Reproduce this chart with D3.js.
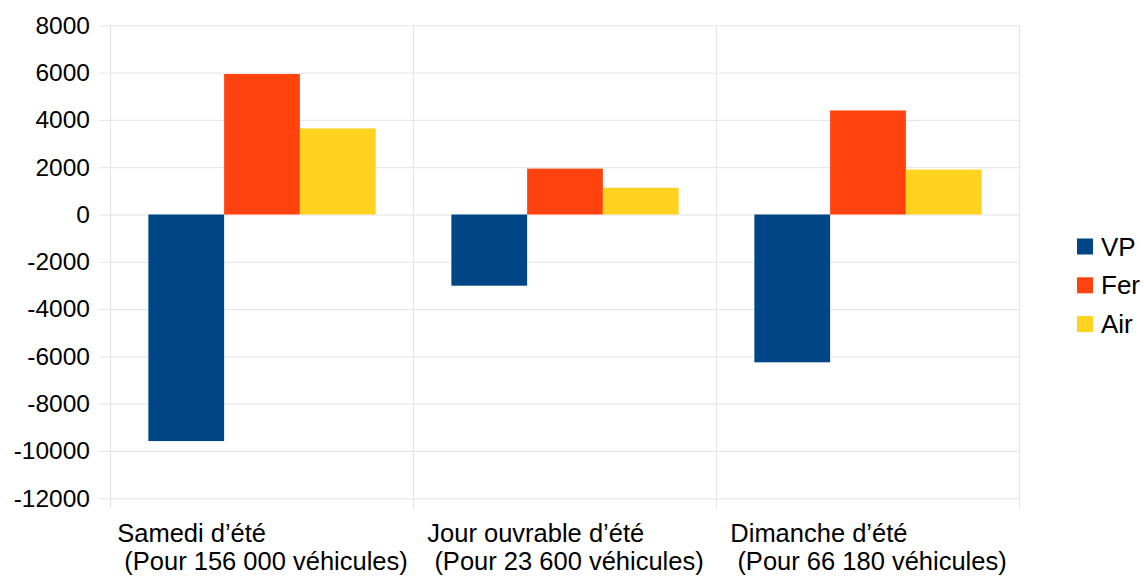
<!DOCTYPE html>
<html>
<head>
  <meta charset="utf-8">
  <title>VP / Fer / Air</title>
  <script src="https://cdn.jsdelivr.net/npm/d3@7"></script>
  <style>
    body {
      margin: 0;
      background: #ffffff;
      font-family: "Liberation Sans", Arial, sans-serif;
    }

    .grid line {
      stroke: #e3e3e3;
      stroke-width: 1;
    }

    .y.axis text {
      font-size: 24.5px;
      fill: #000;
    }

    .cat text {
      font-size: 25.5px;
      fill: #000;
      white-space: pre;
    }

    .legend text {
      font-size: 26px;
      fill: #000;
    }
  </style>
</head>
<body>
<script>

  // categories (two-line labels) and series
  var categories = ["Samedi", "Jour", "Dimanche"];
  var catLine1 = ["Samedi d’été", "Jour ouvrable d’été", "Dimanche d’été"];
  var catLine2 = [" (Pour 156 000 véhicules)", " (Pour 23 600 véhicules)", " (Pour 66 180 véhicules)"];

  var series = ["VP", "Fer", "Air"];
  var colors = ["#004586", "#ff420e", "#ffd320"];

  var vpValues  = [-9580, -3010, -6250];
  var ferValues = [5940, 1940, 4400];
  var airValues = [3640, 1130, 1900];

  var yTicks = [-12000, -10000, -8000, -6000, -4000, -2000, 0, 2000, 4000, 6000, 8000];

  var W = 1144, H = 578;
  var plotLeft = 110.5, plotRight = 1019.5, plotTop = 25.3, plotBottom = 498.3;

  var values = [vpValues, ferValues, airValues];

  var svg = d3.select("body").append("svg")
      .attr("width", W)
      .attr("height", H);

  var x = d3.scaleBand()
      .domain(categories)
      .range([plotLeft, plotRight])
      .padding(0);

  var xInner = d3.scaleBand()
      .domain(series)
      .range([0, x.bandwidth()])
      .paddingInner(0)
      .paddingOuter(0.5);

  var y = d3.scaleLinear()
      .domain([-12000, 8000])
      .range([plotBottom, plotTop]);

  // horizontal gridlines + tick labels
  var yAxis = d3.axisLeft(y)
      .tickValues(yTicks)
      .tickFormat(function (d) { return String(d); })
      .tickSize(-(plotRight - 99))
      .tickPadding(9);

  svg.append("g")
      .attr("class", "y axis grid")
      .attr("transform", "translate(99,0)")
      .call(yAxis)
      .call(function (g) { g.select(".domain").remove(); })
      .call(function (g) { g.selectAll("line").attr("stroke", "#e3e3e3"); });

  // vertical separators (axis line + category boundaries)
  var edges = categories.map(function (c) { return x(c); }).concat([x.range()[1]]);

  svg.append("g")
      .attr("class", "grid")
      .selectAll("line")
      .data(edges)
      .join("line")
      .attr("x1", function (d) { return Math.floor(d) + 0.5; })
      .attr("x2", function (d) { return Math.floor(d) + 0.5; })
      .attr("y1", plotTop)
      .attr("y2", plotBottom + 11);

  // bars
  series.forEach(function (s, i) {
    svg.append("g")
        .attr("class", "bars")
        .attr("fill", colors[i])
        .selectAll("rect")
        .data(values[i])
        .join("rect")
        .attr("x", function (d, j) { return x(categories[j]) + xInner(s); })
        .attr("width", xInner.bandwidth())
        .attr("y", function (d) { return y(Math.max(0, d)); })
        .attr("height", function (d) { return Math.abs(y(d) - y(0)); });
  });

  // category labels: left-aligned block, centred on the widest line
  var cat = svg.append("g").attr("class", "cat");

  categories.forEach(function (c, j) {
    var cx = x(c) + x.bandwidth() / 2 + 0.5;
    var t2 = cat.append("text")
        .attr("y", 569.5)
        .text(catLine2[j]);
    var w = t2.node().getComputedTextLength();
    var x0 = cx - w / 2;
    t2.attr("x", x0);
    cat.append("text")
        .attr("x", x0)
        .attr("y", 542)
        .text(catLine1[j]);
  });

  // legend
  var legend = svg.append("g")
      .attr("class", "legend")
      .attr("transform", "translate(1077,246.5)");

  var item = legend.selectAll("g")
      .data(series)
      .join("g")
      .attr("transform", function (d, i) { return "translate(0," + (i * 38.8) + ")"; });

  item.append("rect")
      .attr("x", 0)
      .attr("y", -8)
      .attr("width", 16)
      .attr("height", 16)
      .attr("fill", function (d, i) { return colors[i]; });

  item.append("text")
      .attr("x", 24)
      .attr("dy", "0.35em")
      .text(function (d) { return d; });

</script>
</body>
</html>
